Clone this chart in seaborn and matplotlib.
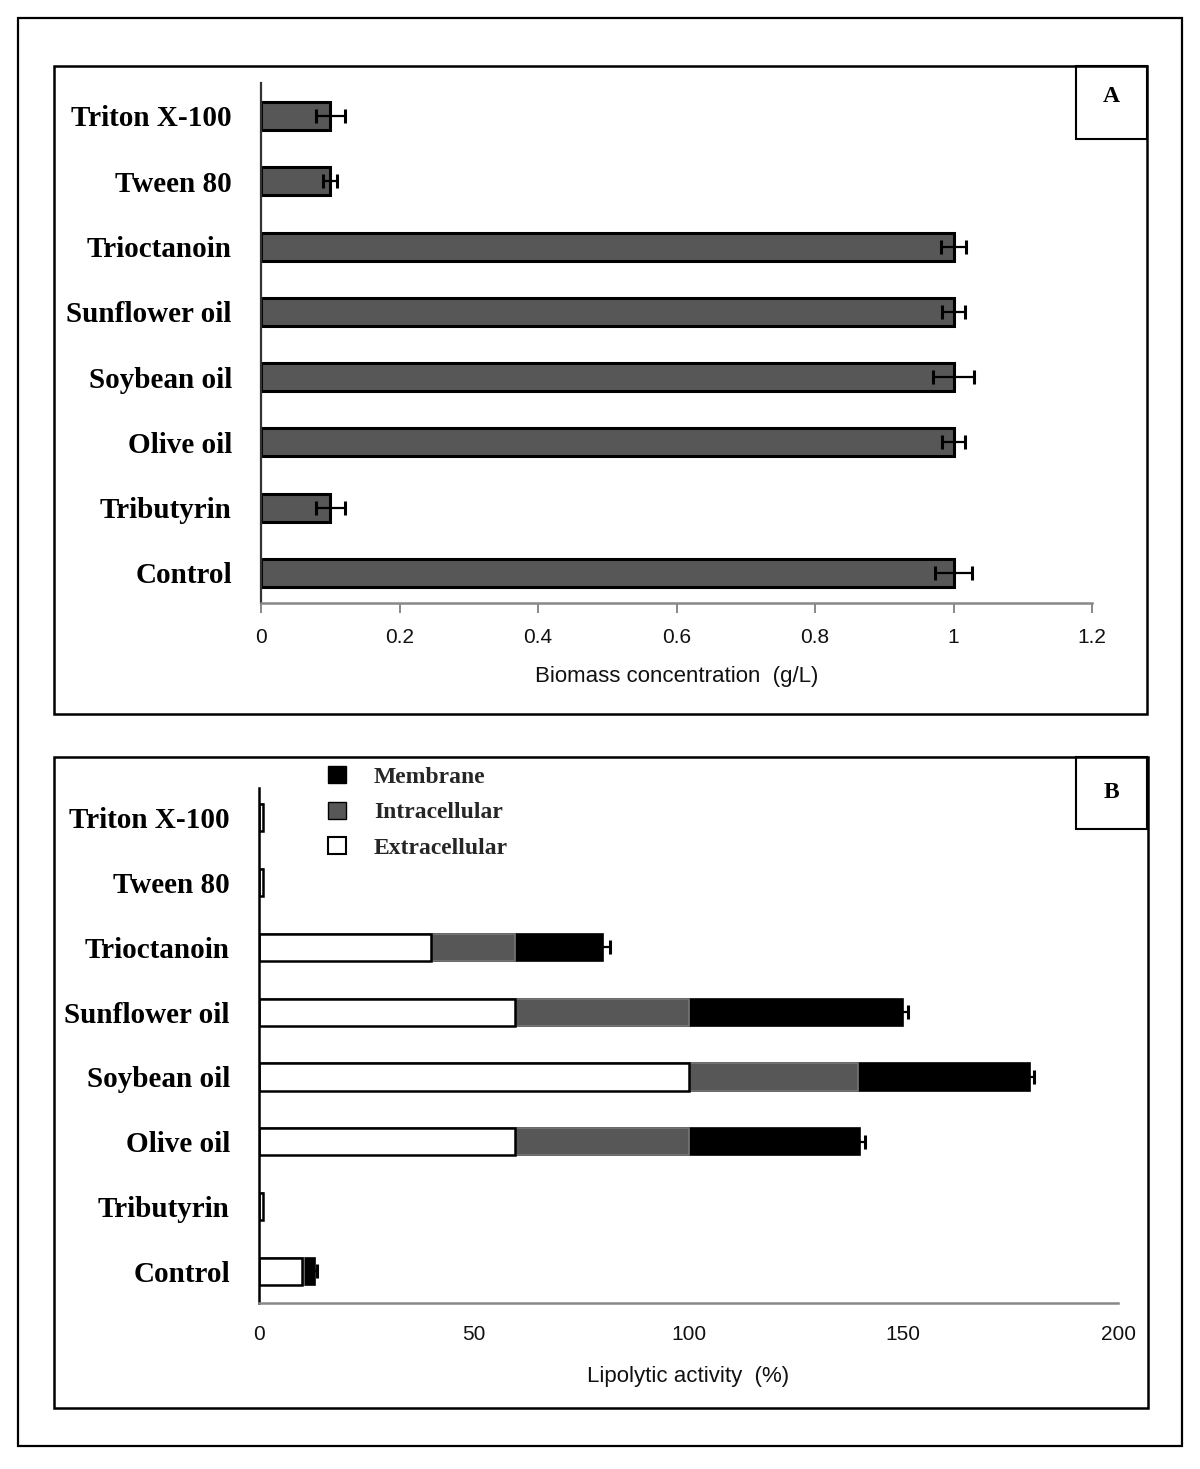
import matplotlib
matplotlib.use("Agg")
import matplotlib.pyplot as plt
import seaborn as sns
import pandas as pd
import numpy as np
from matplotlib.patches import Rectangle, Patch

# ---------------- data ----------------
categories = ["Triton X-100", "Tween 80", "Trioctanoin", "Sunflower oil",
              "Soybean oil", "Olive oil", "Tributyrin", "Control"]

biomass = [0.10, 0.10, 1.00, 1.00, 1.00, 1.00, 0.10, 1.00]
biomass_err = [0.021, 0.010, 0.018, 0.016, 0.030, 0.016, 0.021, 0.026]

extracellular = [1.0, 1.0, 40.0, 59.5, 100.0, 59.5, 1.0, 10.0]
intracellular = [0.0, 0.0, 19.5, 40.5, 39.5, 40.5, 0.0, 0.5]
membrane = [0.0, 0.0, 20.5, 50.0, 40.0, 40.0, 0.0, 2.5]
lipolytic_err = [0.0, 0.0, 1.8, 1.0, 1.0, 1.0, 0.0, 0.6]

xticks_A = [0, 0.2, 0.4, 0.6, 0.8, 1, 1.2]
xticklabels_A = ["0", "0.2", "0.4", "0.6", "0.8", "1", "1.2"]
xticks_B = [0, 50, 100, 150, 200]
xticklabels_B = ["0", "50", "100", "150", "200"]

# ---------------- style ----------------
sns.set_theme(style="white")
plt.rcParams['font.family'] = ['Liberation Sans', 'DejaVu Sans']

SERIF = ['Liberation Serif', 'DejaVu Serif']
BAR_GRAY = "#575757"

fig = plt.figure(figsize=(12, 14.69), dpi=100)
W, H = 1200, 1469

def fx(x):
    return x / W

def fy(y):
    return 1 - y / H

def frect(x0, y0, x1, y1, lw=2.0, ec="black"):
    r = Rectangle((fx(x0), fy(y1)), fx(x1) - fx(x0), fy(y0) - fy(y1),
                  transform=fig.transFigure, fill=False, ec=ec, lw=lw)
    fig.patches.append(r)

# frames
frect(18, 18, 1182, 1446, lw=1.6)
frect(54, 66, 1147, 714, lw=1.8)
frect(54, 757, 1148, 1408, lw=1.8)
frect(1076, 66, 1147, 139, lw=1.5)
frect(1076, 757, 1147, 829, lw=1.5)
fig.text(fx(1111), fy(97), "A", family=SERIF, fontweight="bold", fontsize=17,
         ha="center", va="center", color="black")
fig.text(fx(1111), fy(792), "B", family=SERIF, fontweight="bold", fontsize=17,
         ha="center", va="center", color="black")

CAT_FS = 21
TICK_FS = 15
LAB_FS = 16

# ---------------- Panel A ----------------
axA = fig.add_axes([fx(261), fy(603), fx(1092) - fx(261), fy(83) - fy(603)])
dfA = pd.DataFrame({"cat": categories, "val": biomass})
sns.barplot(data=dfA, y="cat", x="val", order=categories, orient="h",
            color=BAR_GRAY, saturation=1, width=0.43, edgecolor="black",
            linewidth=2.2, ax=axA, errorbar=None)
axA.errorbar(biomass, np.arange(len(categories)), xerr=biomass_err, fmt="none",
             ecolor="black", elinewidth=1.6, capsize=4.8, capthick=2.2, zorder=5)
axA.set_xlim(0, 1.2)
axA.set_ylim(7.46, -0.505)
axA.set_xticks(xticks_A)
axA.set_xticklabels(xticklabels_A, fontsize=TICK_FS, color="#111111")
axA.set_xlabel("Biomass concentration  (g/L)", fontsize=LAB_FS, color="#111111",
               labelpad=14)
axA.set_ylabel("")
for lab in axA.get_yticklabels():
    lab.set_family(SERIF)
    lab.set_fontweight("bold")
    lab.set_fontsize(CAT_FS)
    lab.set_color("black")
axA.tick_params(axis="y", length=0, pad=21)
axA.tick_params(axis="x", direction="out", length=7, width=1.4, color="#888888",
                pad=11, bottom=True)
for s in ["top", "right"]:
    axA.spines[s].set_visible(False)
axA.spines["left"].set_color("#333333")
axA.spines["left"].set_linewidth(1.6)
axA.spines["bottom"].set_color("#888888")
axA.spines["bottom"].set_linewidth(1.8)

# ---------------- Panel B ----------------
axB = fig.add_axes([fx(259), fy(1303), fx(1118) - fx(259), fy(788) - fy(1303)])
ext = np.array(extracellular)
intr = np.array(intracellular)
mem = np.array(membrane)
total = ext + intr + mem
dfB = pd.DataFrame({"cat": categories, "total": total, "mid": ext + intr, "ext": ext})

sns.barplot(data=dfB, y="cat", x="total", order=categories, orient="h",
            color="black", saturation=1, width=0.42, edgecolor="black",
            linewidth=1.2, ax=axB, errorbar=None)
sns.barplot(data=dfB, y="cat", x="mid", order=categories, orient="h",
            color=BAR_GRAY, saturation=1, width=0.42, edgecolor="#777777",
            linewidth=1.2, ax=axB, errorbar=None)
sns.barplot(data=dfB, y="cat", x="ext", order=categories, orient="h",
            color="white", saturation=1, width=0.42, edgecolor="black",
            linewidth=1.8, ax=axB, errorbar=None)
has_err = np.array(lipolytic_err) > 0
axB.errorbar(total[has_err], np.arange(len(categories))[has_err],
             xerr=np.array(lipolytic_err)[has_err], fmt="none", ecolor="black",
             elinewidth=1.6, capsize=4.8, capthick=2.2, zorder=5)
axB.set_xlim(0, 200)
axB.set_ylim(7.49, -0.46)
axB.set_xticks(xticks_B)
axB.set_xticklabels(xticklabels_B, fontsize=TICK_FS, color="#111111")
axB.set_xlabel("Lipolytic activity  (%)", fontsize=LAB_FS, color="#111111", labelpad=16)
axB.set_ylabel("")
for lab in axB.get_yticklabels():
    lab.set_family(SERIF)
    lab.set_fontweight("bold")
    lab.set_fontsize(CAT_FS)
    lab.set_color("black")
axB.tick_params(axis="y", length=0, pad=21)
axB.tick_params(axis="x", length=0, pad=16)
for s in ["top", "right"]:
    axB.spines[s].set_visible(False)
axB.spines["left"].set_color("black")
axB.spines["left"].set_linewidth(1.8)
axB.spines["bottom"].set_color("#888888")
axB.spines["bottom"].set_linewidth(1.8)

handles = [Patch(facecolor="black", edgecolor="black", label="Membrane"),
           Patch(facecolor=BAR_GRAY, edgecolor="black", label="Intracellular"),
           Patch(facecolor="white", edgecolor="black", lw=1.5, label="Extracellular")]
leg = axB.legend(handles=handles, loc="upper left",
                 bbox_to_anchor=(fx(328), fy(766)), bbox_transform=fig.transFigure,
                 frameon=False, prop={"family": SERIF, "weight": "bold", "size": 17},
                 handlelength=0.75, handleheight=0.75, handletextpad=1.2,
                 labelspacing=0.58, borderaxespad=0, borderpad=0)

fig.savefig("out.png", dpi=100, facecolor="white")
